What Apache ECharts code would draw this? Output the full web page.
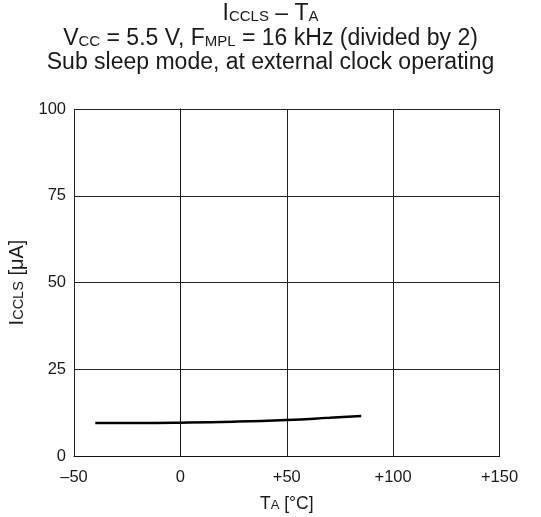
<!DOCTYPE html>
<html><head><meta charset="utf-8">
<script src="https://cdn.jsdelivr.net/npm/echarts@6/dist/echarts.min.js"></script>
<style>html,body{margin:0;padding:0;background:#fff}#c{width:541px;height:517px}</style>
</head><body><div id="c"></div>
<script>
const temps = [-40, -20, 0, 25, 50, 70, 85];
const currents = [9.5, 9.5, 9.6, 9.9, 10.4, 11.0, 11.5];
const xTicks = [-50, 0, 50, 100, 150];
const yTicks = [0, 25, 50, 75, 100];

const chart = echarts.init(document.getElementById('c'));
const F = 'Liberation Sans, Arial, Helvetica, sans-serif';
const C = '#1a1a1a';
const big = {fontSize: 23, fontFamily: F, fontWeight: 'normal', color: C, lineHeight: 24.5, verticalAlign: 'bottom'};
const sub = {fontSize: 15, fontFamily: F, fontWeight: 'normal', color: C, lineHeight: 24.5, verticalAlign: 'bottom', padding: [0, 0, 1, 0]};
const xb = {fontSize: 17.5, fontFamily: F, color: C, lineHeight: 20, verticalAlign: 'bottom'};
const xs = {fontSize: 13, fontFamily: F, color: C, lineHeight: 20, verticalAlign: 'bottom', padding: [0, 0, 1, 0]};
const yb = {fontSize: 20, fontFamily: F, color: C, lineHeight: 22, verticalAlign: 'bottom'};
const ys = {fontSize: 14.5, fontFamily: F, color: C, lineHeight: 22, verticalAlign: 'bottom', padding: [0, 0, 1, 0]};

function fmtX(v) { return v < 0 ? '–' + Math.abs(v) : (v > 0 ? '+' + v : '' + v); }

chart.setOption({
  animation: false,
  title: {
    left: 'center', top: 0, padding: [1, 5, 5, 5],
    text: '{b|I}{s|CCLS}{b| – T}{s|A}\n{b|V}{s|CC}{b| = 5.5 V, F}{s|MPL}{b| = 16 kHz (divided by 2)}\n{b|Sub sleep mode, at external clock operating}',
    textStyle: {fontWeight: 'normal', rich: {b: big, s: sub}}
  },
  grid: {left: 74, right: 41.5, top: 109, bottom: 61, outerBoundsMode: 'none'},
  xAxis: {
    type: 'value', min: xTicks[0], max: xTicks[xTicks.length - 1], interval: 50,
    name: '{b|T}{s|A}{b| [°C]}', nameLocation: 'middle', nameGap: 37,
    nameTextStyle: {rich: {b: xb, s: xs}},
    axisLine: {show: true, lineStyle: {color: '#111', width: 1}},
    axisTick: {show: false},
    splitLine: {show: true, lineStyle: {color: '#222', width: 1}},
    axisLabel: {fontSize: 16.5, fontFamily: F, color: C, margin: 13, formatter: fmtX}
  },
  yAxis: {
    type: 'value', min: yTicks[0], max: yTicks[yTicks.length - 1], interval: 25,
    name: '{b|I}{s|CCLS}{b| [μA]}', nameLocation: 'middle', nameGap: 40, nameRotate: 90,
    nameTextStyle: {rich: {b: yb, s: ys}},
    axisLine: {show: true, lineStyle: {color: '#111', width: 1}},
    axisTick: {show: false},
    splitLine: {show: true, lineStyle: {color: '#222', width: 1}},
    axisLabel: {fontSize: 16.5, fontFamily: F, color: C, margin: 8}
  },
  series: [{
    type: 'line', smooth: true, showSymbol: false,
    data: temps.map((t, i) => [t, currents[i]]),
    lineStyle: {color: '#000', width: 2.5}
  }]
});
</script>
</body></html>
